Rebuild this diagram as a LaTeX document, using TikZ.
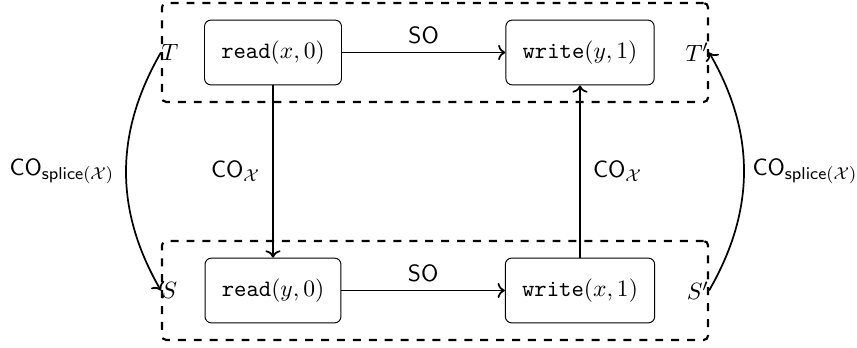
\documentclass[tikz,border=0pt,11pt]{standalone}
\usetikzlibrary{arrows.meta}
\begin{document}
\begin{tikzpicture}[x=0.465pt,y=-0.465pt,
  opbox/.style={draw,rounded corners=3pt,inner xsep=7.8pt,inner ysep=9.6pt,line width=0.45pt},
  grpbox/.style={draw,line width=1pt,dash pattern=on 3.7pt off 3.7pt,rounded corners=2pt,minimum width=253.9pt,minimum height=46pt,inner sep=0pt},
  rel/.style={->,line width=0.8pt},
  lbl/.style={inner sep=0pt}]
\useasboundingbox (0,0) rectangle (857,348);
\node[grpbox] (topgrp) at (435,52.5) {};
\node[grpbox] (botgrp) at (435,290.5) {};
\node[opbox] (r1) at (273,52.5) {\texttt{read}$(x,0)$};
\node[opbox] (w1) at (580,52.5) {\texttt{write}$(y,1)$};
\node[opbox] (r2) at (273,290.5) {\texttt{read}$(y,0)$};
\node[opbox] (w2) at (580,290.5) {\texttt{write}$(x,1)$};
\node[lbl,anchor=west] (T) at (topgrp.west) {$T$};
\node[lbl,anchor=east] (Tp) at (topgrp.east) {$T'$};
\node[lbl,anchor=west] (S) at (botgrp.west) {$S$};
\node[lbl,anchor=east] (Sp) at (botgrp.east) {$S'$};
\draw[rel] (r1) -- node[above] {$\mathsf{SO}$} (w1);
\draw[rel] (r2) -- node[above] {$\mathsf{SO}$} (w2);
\draw[rel] (r1) -- node[left=2pt] {$\mathsf{CO}_{\mathcal{X}}$} (r2);
\draw[rel] (w2) -- node[right=2pt] {$\mathsf{CO}_{\mathcal{X}}$} (w1);
\draw[rel] (T.west) to[bend right=30] node[left=1.5pt] {$\mathsf{CO}_{\mathsf{splice}(\mathcal{X})}$} (S.west);
\draw[rel] (Sp.east) to[bend right=30] node[right=0pt] {$\mathsf{CO}_{\mathsf{splice}(\mathcal{X})}$} (Tp.east);
\end{tikzpicture}
\end{document}
